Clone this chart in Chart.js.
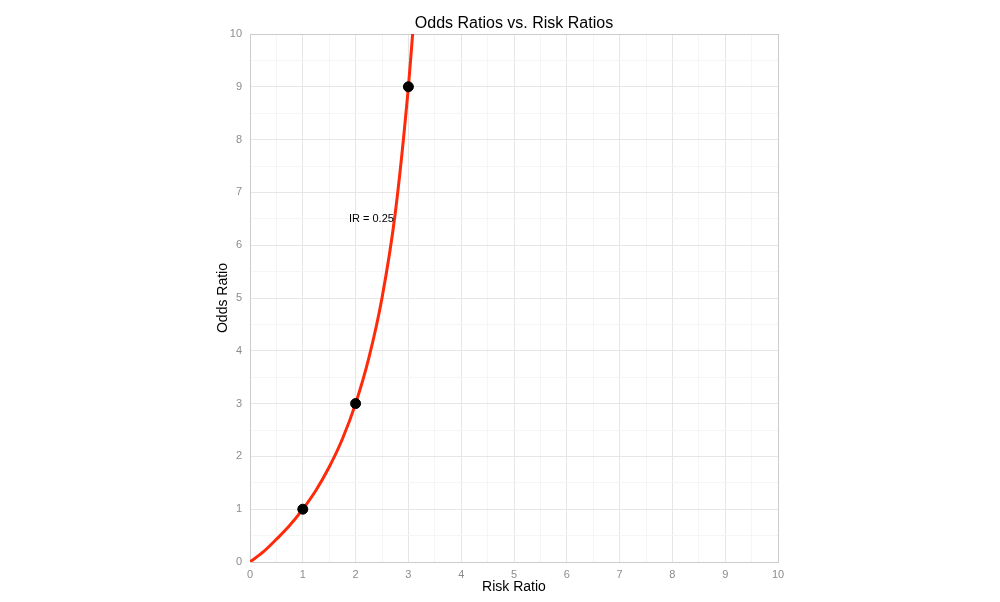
<!DOCTYPE html>
<html lang="en">
<head>
    <meta charset="UTF-8">
    <title>Odds Ratios vs. Risk Ratios</title>
    <script src="https://cdn.jsdelivr.net/npm/chart.js"></script>
    <style>
        body { margin: 0; background: #fff; }
        #wrap { width: 1000px; height: 602px; }
    </style>
</head>
<body>
    <div id="wrap"><canvas id="orChart"></canvas></div>

    <script>
        // curve values (risk ratio -> odds ratio)
        const riskRatio = [0, 0.25, 0.5, 0.75, 1, 1.25, 1.5, 1.75, 2, 2.25, 2.5, 2.75, 3, 3.08];
        const oddsRatio = [0, 0.19, 0.43, 0.69, 1, 1.36, 1.8, 2.33, 3, 3.86, 5, 6.6, 9, 10];

        // highlighted points
        const markRR = [1, 2, 3];
        const markOR = [1, 3, 9];

        const chartTitle = "Odds Ratios vs. Risk Ratios";
        const curveLabel = "IR = 0.25";
        const labelAt = [2.3, 6.5];

        const fontFam = "'Liberation Sans', Arial, sans-serif";

        const textPlugin = {
            id: "textPlugin",
            afterDraw(chart) {
                const c = chart.ctx;
                const area = chart.chartArea;
                const xs = chart.scales.x, ys = chart.scales.y;
                c.save();
                c.fillStyle = "#000";
                c.textAlign = "center";
                c.textBaseline = "middle";
                c.font = "16px " + fontFam;
                c.fillText(chartTitle, (area.left + area.right) / 2, 24);
                c.font = "11px " + fontFam;
                c.fillText(curveLabel, xs.getPixelForValue(labelAt[0]), ys.getPixelForValue(labelAt[1]));
                c.restore();
            }
        };

        const gridColor = (ctx) => {
            const v = ctx.tick.value;
            if (v === 10) return "#cccccc";
            return v % 1 === 0 ? "#e6e6e6" : "#f5f5f5";
        };

        document.addEventListener("DOMContentLoaded", () => {
            const ctx = document.getElementById("orChart").getContext("2d");

            new Chart(ctx, {
                type: "scatter",
                data: {
                    datasets: [{
                        data: markRR.map((x, i) => ({ x: x, y: markOR[i] })),
                        backgroundColor: "#000",
                        borderColor: "#000",
                        pointRadius: 5,
                        showLine: false
                    }, {
                        data: riskRatio.map((x, i) => ({ x: x, y: oddsRatio[i] })),
                        borderColor: "#ff2a0a",
                        borderWidth: 3,
                        pointRadius: 0,
                        showLine: true,
                        cubicInterpolationMode: "monotone"
                    }]
                },
                options: {
                    responsive: true,
                    maintainAspectRatio: false,
                    animation: false,
                    layout: { padding: { left: 215, right: 222, top: 34, bottom: 6 } },
                    plugins: {
                        legend: { display: false },
                        tooltip: { enabled: false }
                    },
                    scales: {
                        x: {
                            type: "linear",
                            min: 0,
                            max: 10,
                            afterFit: (s) => { s.height = 34; },
                            border: { color: "#cccccc" },
                            grid: { color: gridColor, drawTicks: false },
                            ticks: {
                                stepSize: 0.5,
                                padding: 6,
                                color: "#8c8c8c",
                                font: { family: fontFam, size: 11 },
                                callback: (v) => (v % 1 === 0 ? v : "")
                            },
                            title: {
                                display: true,
                                text: "Risk Ratio",
                                color: "#000",
                                font: { family: fontFam, size: 14 },
                                padding: { top: 0, bottom: 0 }
                            }
                        },
                        y: {
                            type: "linear",
                            min: 0,
                            max: 10,
                            afterFit: (s) => { s.width = 35; },
                            border: { color: "#cccccc" },
                            grid: { color: gridColor, drawTicks: false },
                            ticks: {
                                stepSize: 0.5,
                                padding: 8,
                                color: "#8c8c8c",
                                font: { family: fontFam, size: 11 },
                                callback: (v) => (v % 1 === 0 ? v : "")
                            },
                            title: {
                                display: true,
                                text: "Odds Ratio",
                                color: "#000",
                                font: { family: fontFam, size: 14 },
                                padding: { top: 0, bottom: 0 }
                            }
                        }
                    }
                },
                plugins: [textPlugin]
            });
        });
    </script>
</body>
</html>
